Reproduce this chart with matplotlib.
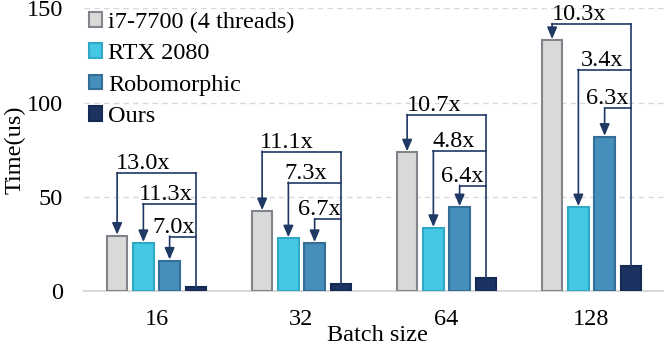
import matplotlib
matplotlib.use("Agg")
import matplotlib.pyplot as plt
import numpy as np

plt.rcParams['font.family'] = ['Liberation Serif', 'DejaVu Serif']

# ---- data ----
batch_sizes = ["16", "32", "64", "128"]
series_names = ["i7-7700 (4 threads)", "RTX 2080", "Robomorphic", "Ours"]
i7_time = [29.3, 42.3, 73.5, 133.1]
rtx_time = [25.4, 27.9, 33.4, 44.4]
robo_time = [16.1, 25.4, 44.4, 81.8]
ours_time = [2.25, 3.8, 6.9, 13.0]
speedup_i7 = ["13.0x", "11.1x", "10.7x", "10.3x"]
speedup_rtx = ["11.3x", "7.3x", "4.8x", "3.4x"]
speedup_robo = ["7.0x", "6.7x", "6.4x", "6.3x"]

# ---- layout / style ----
face_colors = ["#d9d9d9", "#45c8e5", "#468fba", "#1c3362"]
edge_colors = ["#7f858b", "#2fa9c6", "#336f96", "#142a52"]
line_color = "#1f3864"
bar_w = 0.14
step = 0.181
FS = 17.5
# bracket heights (data units) for [i7, rtx, robo] per group
bracket_levels = [[62.4, 46.0, 28.8], [73.9, 57.4, 38.0],
                  [93.3, 74.2, 55.8], [141.6, 117.2, 96.9]]
# text left offsets relative to group center
text_offsets = [[-0.278, -0.124, -0.030], [-0.288, -0.116, -0.026],
                [-0.276, -0.097, -0.041], [-0.276, -0.076, -0.035]]

fig = plt.figure(figsize=(6.64, 3.48), dpi=100)
ax = fig.add_axes([84 / 664, 57 / 348, 580 / 664, 282.7 / 348])

x = np.arange(len(batch_sizes))
all_series = [i7_time, rtx_time, robo_time, ours_time]
for i, (vals, name) in enumerate(zip(all_series, series_names)):
    ax.bar(x + (i - 1.5) * step, vals, width=bar_w, color=face_colors[i],
           edgecolor=edge_colors[i], linewidth=1.5, label=name, zorder=3)

ax.set_xlim(-0.5, 3.5)
ax.set_ylim(0, 150)
ax.set_yticks([0, 50, 100, 150])
ax.set_xticks(x)
ax.set_xticklabels(batch_sizes)
ax.tick_params(axis='y', length=0, labelsize=FS, pad=15)
ax.tick_params(axis='x', length=0, labelsize=FS, pad=13)
for s in ["top", "right", "left"]:
    ax.spines[s].set_visible(False)
ax.spines["bottom"].set_color("#d9d9d9")
ax.spines["bottom"].set_linewidth(1.5)
ax.yaxis.grid(True, linestyle=(0, (4, 3)), color="#d9d9d9", linewidth=1, zorder=0)
ax.set_axisbelow(True)

ax.set_xlabel("Batch size", fontsize=FS)
ax.xaxis.set_label_coords((377.5 - 84) / 580, -(325 - 291) / 282.7)
ax.set_ylabel("Time(us)", fontsize=FS)
ax.yaxis.set_label_coords(-(84 - 26) / 580, 0.5)

# ---- speedup brackets ----
labels_all = [speedup_i7, speedup_rtx, speedup_robo]
tops_all = [i7_time, rtx_time, robo_time]
for g in range(len(batch_sizes)):
    xv = x[g] + 1.5 * step
    lev = bracket_levels[g]
    ax.plot([xv, xv], [ours_time[g], lev[0]], color=line_color, lw=1.2, zorder=4)
    for k in range(3):
        xb = x[g] + (k - 1.5) * step
        ax.plot([xb, xv], [lev[k], lev[k]], color=line_color, lw=1.2, zorder=4)
        ax.annotate("", xy=(xb, tops_all[k][g] + 0.6), xytext=(xb, lev[k] + 0.3),
                    arrowprops=dict(arrowstyle="-|>,head_length=0.7,head_width=0.3",
                                    color=line_color, lw=1.2, shrinkA=0, shrinkB=0,
                                    mutation_scale=10), zorder=5)
        ax.annotate(labels_all[k][g], xy=(x[g] + text_offsets[g][k], lev[k]),
                    xytext=(0, 3), textcoords="offset points",
                    ha="left", va="baseline", fontsize=FS, zorder=6)

leg = ax.legend(loc="upper left", bbox_to_anchor=(89 / 664, 1 - 12 / 348),
                bbox_transform=fig.transFigure, frameon=False, fontsize=FS,
                handlelength=0.55, handleheight=0.55, handletextpad=0.25,
                labelspacing=0.42, borderpad=0, borderaxespad=0)

fig.savefig("out.png", dpi=100)
